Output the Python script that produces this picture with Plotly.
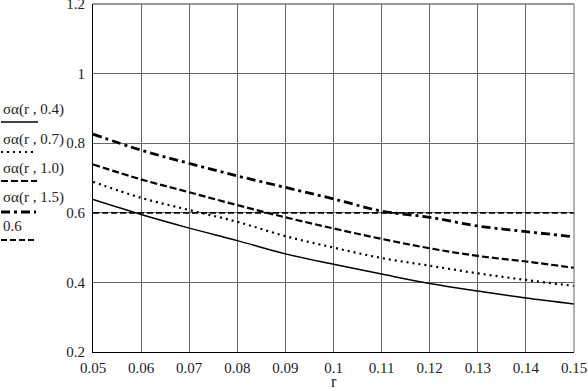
import plotly.graph_objects as go

r = [0.05, 0.06, 0.07, 0.08, 0.09, 0.10, 0.11, 0.12, 0.13, 0.14, 0.15]
s04 = [0.638, 0.595, 0.556, 0.520, 0.482, 0.452, 0.424, 0.397, 0.375, 0.355, 0.338]
s07 = [0.689, 0.643, 0.608, 0.574, 0.533, 0.500, 0.470, 0.448, 0.426, 0.407, 0.390]
s10 = [0.739, 0.696, 0.659, 0.622, 0.587, 0.555, 0.525, 0.498, 0.476, 0.460, 0.442]
s15 = [0.826, 0.780, 0.742, 0.706, 0.673, 0.640, 0.605, 0.587, 0.562, 0.546, 0.531]
const = [0.6] * len(r)

labels = ["σα(r , 0.4)", "σα(r , 0.7)", "σα(r , 1.0)", "σα(r , 1.5)", "0.6"]
series = [s04, s07, s10, s15, const]
dashes = ["solid", "2px,4px", "7px,3px", "9px,4px,3px,4px", "6px,3px"]
widths = [1.5, 2.2, 2.2, 2.8, 1.8]
x_title = "r"

FONT = "Times New Roman"
fig = go.Figure()
for lab, ys, d, w in zip(labels, series, dashes, widths):
    fig.add_trace(go.Scatter(x=r, y=ys, mode="lines", name=lab,
                             line=dict(color="black", dash=d, width=w, shape="spline"),
                             showlegend=False, hoverinfo="skip"))

W, H = 588, 391
ml, mr, mt, mb = 93, 14, 4, 39
pw, ph = W - ml - mr, H - mt - mb

def px2paper_x(px):
    return (px - ml) / pw

def px2paper_y(py):
    return 1 - (py - mt) / ph

text_y = [109, 139, 168, 197, 226]
samp_y = [122, 152, 181, 212, 240]
samp_x2 = [38, 33, 37, 36, 37]
for lab, ty, sy, sx, d, w in zip(labels, text_y, samp_y, samp_x2, dashes, widths):
    fig.add_annotation(xref="paper", yref="paper", x=px2paper_x(3), y=px2paper_y(ty),
                       text=lab, showarrow=False, xanchor="left", yanchor="middle",
                       xshift=-2,
                       font=dict(family=FONT, size=15, color="#222"))
    fig.add_shape(type="line", xref="paper", yref="paper",
                  x0=px2paper_x(1), x1=px2paper_x(sx), y0=px2paper_y(sy), y1=px2paper_y(sy),
                  line=dict(color="black", dash=d, width=w))

# x-axis title placed below tick labels
fig.add_annotation(xref="paper", yref="paper", x=0.5, y=px2paper_y(381),
                   text=x_title, showarrow=False, xanchor="center", yanchor="middle",
                   font=dict(family=FONT, size=16, color="#222"))

# gray frame on top/right like the reference
fig.add_shape(type="line", xref="paper", yref="paper", x0=0, x1=1, y0=1, y1=1,
              line=dict(color="#777", width=1.5))
fig.add_shape(type="line", xref="paper", yref="paper", x0=1, x1=1, y0=0, y1=1,
              line=dict(color="#666", width=1))

fig.update_layout(
    width=W, height=H,
    margin=dict(l=ml, r=mr, t=mt, b=mb),
    plot_bgcolor="white", paper_bgcolor="white",
    font=dict(family=FONT, size=15, color="#222"),
)
fig.update_xaxes(range=[0.05, 0.15], dtick=0.01, tick0=0.05, showgrid=True,
                 gridcolor="#666", gridwidth=1, showline=True, linecolor="black",
                 linewidth=1, zeroline=False, ticks="", ticklabelstandoff=2,
                 ticklabeloverflow="allow", automargin=False)
fig.update_yaxes(range=[0.2, 1.2], dtick=0.2, tick0=0.2, showgrid=True,
                 gridcolor="#666", gridwidth=1, showline=True, linecolor="black",
                 linewidth=1, zeroline=False, ticks="", ticklabelstandoff=4,
                 ticklabeloverflow="allow", automargin=False)

fig.write_html("out.html", config={"displayModeBar": False},
               post_script="document.body.style.margin='0';")
